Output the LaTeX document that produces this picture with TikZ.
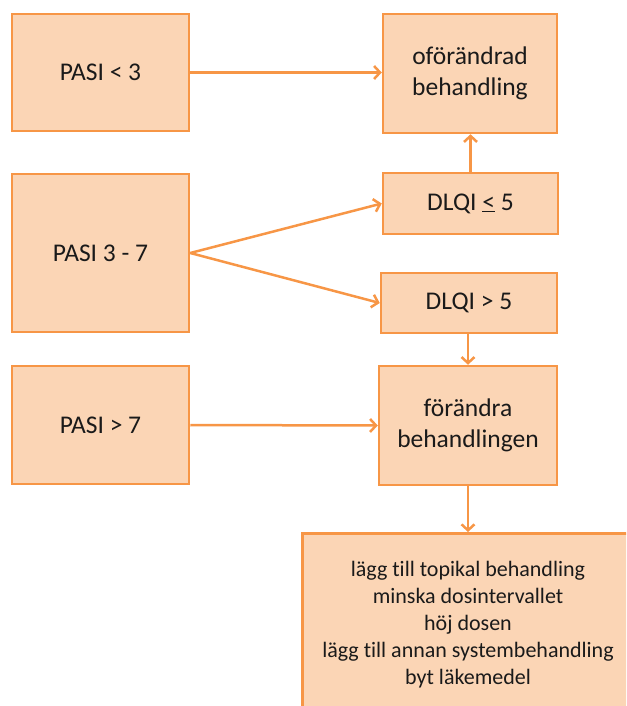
\documentclass[tikz,border=0pt]{standalone}
\usepackage{fontspec}
\setmainfont{Carlito}[Ligatures={NoCommon}]
\usetikzlibrary{arrows.meta}
\definecolor{boxfill}{HTML}{FBD5B5}
\definecolor{boxline}{HTML}{F79646}
\definecolor{txt}{HTML}{1A1A1A}
\begin{document}
\begin{tikzpicture}[x=1pt,y=-1pt,
 box/.style={draw=boxline, fill=boxfill, line width=2.5pt, align=center, text=txt,
   font=\fontsize{25.5}{31}\selectfont, inner sep=0pt},
 conn/.style={draw=boxline, line width=2.5pt, -{Straight Barb[length=6pt,width=13pt,line width=2.5pt]}}]
\useasboundingbox (0,0) rectangle (626,706);
\node[box, minimum width=177, minimum height=117] (p1) at (100.5,72.5) {PASI < 3};
\node[box, minimum width=174, minimum height=119] (o) at (470,73.5) {oförändrad\\behandling};
\node[box, minimum width=177, minimum height=158] (p2) at (100.5,253) {PASI 3 - 7};
\node[box, minimum width=175, minimum height=61] (d1) at (470.5,203.5) {DLQI \underline{<} 5};
\node[box, minimum width=176, minimum height=60] (d2) at (469,303) {DLQI > 5};
\node[box, minimum width=177, minimum height=118] (p3) at (100.5,425) {PASI > 7};
\node[box, minimum width=178, minimum height=119] (f) at (468,425.5) {förändra\\behandlingen};
\begin{scope}
\clip (0,0) rectangle (626,706);
\node[box, minimum width=340, minimum height=190, anchor=north west] (b) at (301,532) {};
\end{scope}
\node[align=center, text=txt, font=\fontsize{22}{27}\selectfont, inner sep=0pt] (bt) at (468,625)
 {lägg till topikal behandling\\minska dosintervallet\\höj dosen\\lägg till annan systembehandling\\byt läkemedel};
\draw[conn] (p1.east) -- (o.west |- p1.east);
\draw[conn] (d1.north) -- (d1.north |- o.south);
\draw[conn] (p2.east) -- (d1.west);
\draw[conn] (p2.east) -- (d2.west);
\draw[conn] (d2.south -| f.north) -- (f.north);
\draw[conn] (p3.east) -- (f.west);
\draw[conn] (f.south) -- (f.south |- b.north);
\end{tikzpicture}
\end{document}
